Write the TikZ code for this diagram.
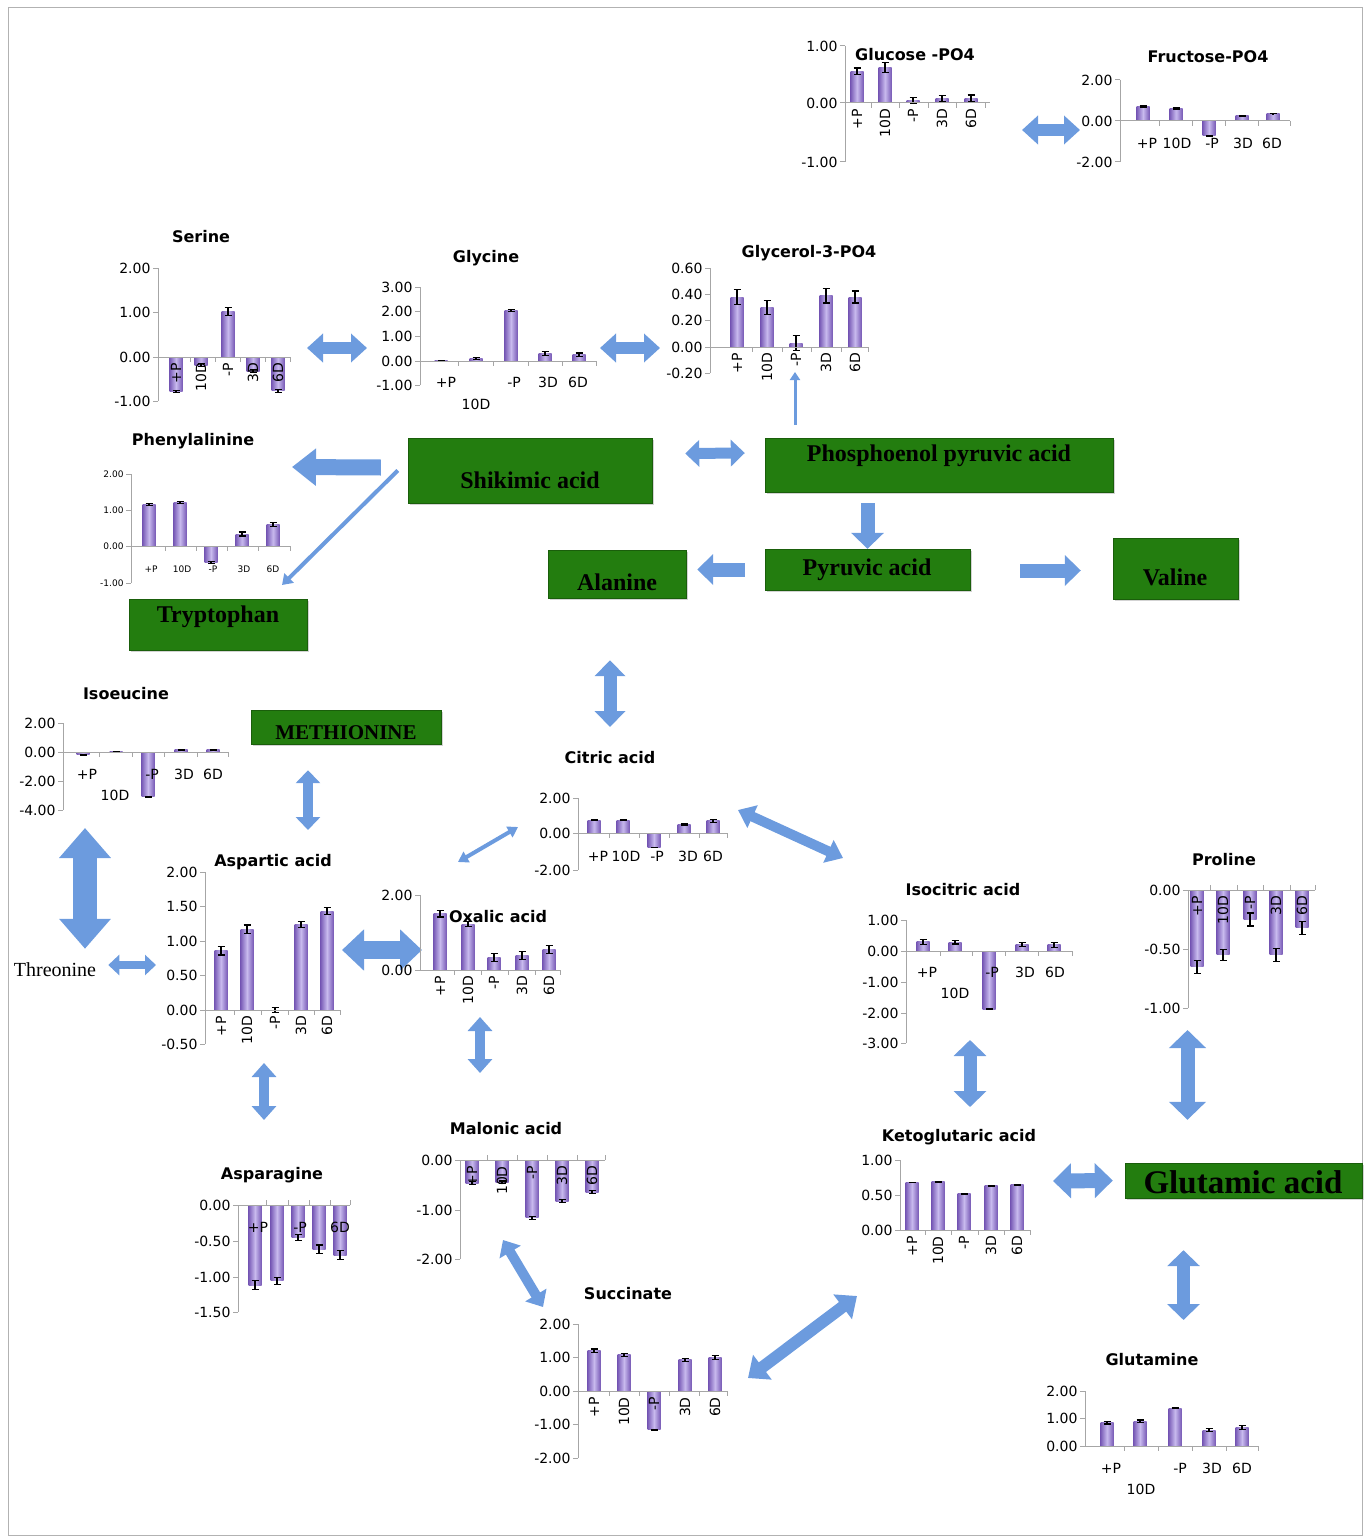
\documentclass[tikz,border=0pt]{standalone}
\usepackage{fontspec}
\setmainfont{Liberation Serif}
\setsansfont{DejaVu Sans}
\usetikzlibrary{arrows.meta, calc, shadows}
\definecolor{boxgreen}{RGB}{35,125,15}
\definecolor{arrowblue}{RGB}{108,155,222}
\definecolor{barpurple}{RGB}{120,90,182}
\definecolor{barlight}{RGB}{200,186,238}
\tikzset{axisline/.style={draw=gray!70, line width=1pt}}
\tikzset{ticklabel/.style={left, inner sep=2pt, font=\sffamily\fontsize{14}{16}\selectfont}}
\tikzset{smalltick/.style={ticklabel, font=\sffamily\fontsize{9}{11}\selectfont}}
\tikzset{catlabel/.style={inner sep=1pt, font=\sffamily\fontsize{14}{16}\selectfont}}
\tikzset{smallcat/.style={inner sep=1pt, font=\sffamily\fontsize{9}{11}\selectfont}}
\tikzset{catrot/.style={catlabel, rotate=90, anchor=east}}
\tikzset{charttitle/.style={font=\sffamily\bfseries\fontsize{16}{18}\selectfont}}
\tikzset{bar/.style={left color=barpurple, right color=barpurple, middle color=barlight}}
\tikzset{errbar/.style={line width=1.2pt, {Bar[width=7pt]}-{Bar[width=7pt]}}}
\tikzset{compound/.style={fill=boxgreen, draw=boxgreen!75!black, drop shadow={shadow xshift=2pt, shadow yshift=-2pt, opacity=0.35}, inner sep=0pt}}
\tikzset{boxtext/.style={inner sep=0pt, font=\bfseries\fontsize{24}{28}\selectfont}}
\tikzset{fatboth/.style n args={3}{line width=#1, draw=arrowblue, {Triangle[width=#2, length=#3]}-{Triangle[width=#2, length=#3]}}}
\tikzset{fatone/.style n args={3}{line width=#1, draw=arrowblue, -{Triangle[width=#2, length=#3]}}}
% chart helpers: y ticks, x ticks, bars with error bars
\newcommand{\yticks}[2]{\foreach \ty/\tl in {#2} \draw[axisline] (#1,\ty) -- ++(-5,0) node[ticklabel] {\tl};}
\newcommand{\xticks}[3]{\foreach \tx in {#2} \draw[axisline] (\tx,#1) -- ++(0,#3);}
\newcommand{\bars}[3]{\foreach \bx/\bv/\be in {#3} {
    \shade[bar] ({\bx-6.5},#1) rectangle ({\bx+6.5},{#1-(\bv)*#2});
    \draw[errbar] (\bx,{#1-(\bv-\be)*#2}) -- (\bx,{#1-(\bv+\be)*#2});}}

\begin{document}
\begin{tikzpicture}[x=1pt, y=-1pt]
\useasboundingbox (0,0) rectangle (1367,1538);
\draw[gray!60, line width=1pt] (8,8) rectangle (1362,1535);

% compounds without charts
\node[compound, minimum width=244, minimum height=65] (shik) at (530,470.5) {};
\node[compound, minimum width=348, minimum height=54] (pep) at (939,465) {};
\node[compound, minimum width=205, minimum height=41] (pyr) at (867.5,569.5) {};
\node[compound, minimum width=138, minimum height=48] (ala) at (617,574) {};
\node[compound, minimum width=125, minimum height=61] (val) at (1175.5,568.5) {};
\node[compound, minimum width=178, minimum height=51] (tryp) at (218,624.5) {};
\node[compound, minimum width=190, minimum height=34] (meth) at (346,727) {};
\node[compound, minimum width=237, minimum height=35] (glu) at (1243.5,1180.5) {};
\node[boxtext] (shik-t) at (530,480) {Shikimic acid};
\node[boxtext] (pep-t) at (939,456) {Phosphoenol pyruvic acid};
\node[boxtext] (pyr-t) at (867,570) {Pyruvic acid};
\node[boxtext] (ala-t) at (617,582) {Alanine};
\node[boxtext] (val-t) at (1175,577) {Valine};
\node[boxtext] (tryp-t) at (218,617) {Tryptophan};
\node[boxtext, font=\bfseries\fontsize{21}{24}\selectfont] (meth-t) at (346,733) {METHIONINE};
\node[boxtext, font=\bfseries\fontsize{33}{36}\selectfont] (glu-t) at (1243,1182) {Glutamic acid};
\node[inner sep=0pt, font=\fontsize{20}{22}\selectfont] (thr) at (55,970) {Threonine};

% arrow ends at the charts
\coordinate (glc-out) at (1022,130);
\coordinate (fru-in) at (1080,130);
\coordinate (ser-out) at (307,348);
\coordinate (gly-in) at (367,348);
\coordinate (gly-out) at (600,348);
\coordinate (g3p-in) at (660,348);
\coordinate (g3p-low) at (795,372);
\coordinate (phe-in) at (292,467);
\coordinate (tryp-in) at (282,585);
\coordinate (cit-top) at (610,727);
\coordinate (asp-top) at (308,830);
\coordinate (iso-low) at (85,828);
\coordinate (asp-left) at (156,965);
\coordinate (cit-left) at (518,827);
\coordinate (oxa-up) at (458,862);
\coordinate (cit-right) at (738,810);
\coordinate (icit-in) at (843,858);
\coordinate (asp-right) at (342,950);
\coordinate (oxa-left) at (422,950);
\coordinate (asp-low) at (264,1063);
\coordinate (asn-top) at (264,1120);
\coordinate (oxa-low) at (480,1017);
\coordinate (mal-top) at (480,1073);
\coordinate (icit-low) at (970,1040);
\coordinate (keto-top) at (970,1107);
\coordinate (pro-low) at (1187.5,1030);
\coordinate (keto-right) at (1053,1181);
\coordinate (gln-top) at (1183.5,1320);
\coordinate (mal-low) at (503,1240);
\coordinate (suc-top) at (543,1307);
\coordinate (suc-right) at (748,1378);
\coordinate (keto-low) at (857,1296);

\draw[fatboth={12pt}{28pt}{16pt}] (glc-out) -- (fru-in);
\draw[fatboth={12pt}{28pt}{16pt}] (ser-out) -- (gly-in);
\draw[fatboth={12pt}{28pt}{16pt}] (gly-out) -- (g3p-in);
\draw[fatone={3pt}{10pt}{8pt}] ($(pep.north -| g3p-low)+(0,-13)$) -- (g3p-low);
\draw[fatone={16pt}{36pt}{24pt}] ($(shik.west)+(-27,-3)$) -- (phe-in);
\draw[fatone={4pt}{13pt}{10pt}] ($(shik.west)+(-10,0)$) -- (tryp-in);
\draw[fatboth={11pt}{26pt}{14pt}] ($(shik.east)+(33,-17)$) -- ($(pep.west)+(-20,-12)$);
\draw[fatone={14pt}{32pt}{16pt}] ($(pep.south -| pyr.north)+(0,11)$) -- (pyr.north);
\draw[fatone={14pt}{30pt}{16pt}] ($(pyr.west)+(-20,0)$) -- ($(ala.east |- pyr.west)+(11,0)$);
\draw[fatone={14pt}{30pt}{16pt}] ($(pyr.east)+(50,1)$) -- ($(val.west)+(-32,2)$);
\draw[fatboth={13pt}{30pt}{16pt}] ($(ala.south)+(-7,62)$) -- (cit-top);
\draw[fatboth={10pt}{24pt}{13pt}] ($(meth.south)+(-38,26)$) -- (asp-top);
\draw[fatboth={24pt}{50pt}{30pt}] (iso-low) -- ($(thr.north)+(30,-14)$);
\draw[fatboth={8pt}{20pt}{11pt}] ($(thr.east)+(12,-5)$) -- (asp-left);
\draw[fatboth={4pt}{12pt}{10pt}] (cit-left) -- (oxa-up);
\draw[fatboth={10pt}{24pt}{16pt}] (cit-right) -- (icit-in);
\draw[fatboth={18pt}{40pt}{22pt}] (asp-right) -- (oxa-left);
\draw[fatboth={10pt}{24pt}{14pt}] (asp-low) -- (asn-top);
\draw[fatboth={10pt}{24pt}{14pt}] (oxa-low) -- (mal-top);
\draw[fatboth={13pt}{32pt}{16pt}] (icit-low) -- (keto-top);
\draw[fatboth={14pt}{36pt}{18pt}] (pro-low) -- ($(glu.north)+(-56,-43)$);
\draw[fatboth={15pt}{34pt}{18pt}] (keto-right) -- ($(glu.west)+(-12,0)$);
\draw[fatboth={13pt}{32pt}{16pt}] ($(glu.south)+(-60,52)$) -- (gln-top);
\draw[fatboth={10pt}{24pt}{14pt}] (mal-low) -- (suc-top);
\draw[fatboth={12pt}{30pt}{18pt}] (suc-right) -- (keto-low);

% Glucose-PO4
\bars{103}{57.5}{857/0.55/0.07, 885/0.62/0.1, 913/0.04/0.06, 942/0.08/0.06, 971/0.08/0.07}
\draw[axisline] (845,46) -- (845,162) (845,103) -- (990,103);
\yticks{845}{46/1.00, 103/0.00, 162/-1.00}
\xticks{103}{871, 899, 928, 956, 985}{5}
\foreach \lx/\lt in {857/+P, 885/10D, 913/-P, 942/3D, 971/6D} \node[catrot] at (\lx,108) {\lt};
\node[charttitle] (glc) at (915,55) {Glucose -PO4};

% Fructose-PO4
\bars{121}{20.5}{1143/0.7/0.06, 1176/0.62/0.06, 1209/-0.72/0.05, 1242/0.25/0.06, 1273/0.35/0.03}
\draw[axisline] (1120,80) -- (1120,162) (1120,121) -- (1290,121);
\yticks{1120}{80/2.00, 121/0.00, 162/-2.00}
\xticks{121}{1159, 1192, 1225, 1258, 1290}{5}
\foreach \lx/\lt in {1147/+P, 1177/10D, 1212/-P, 1243/3D, 1272/6D} \node[catlabel] at (\lx,143) {\lt};
\node[charttitle] (fru) at (1208,57) {Fructose-PO4};

% Serine
\bars{357}{44.5}{176/-0.78/0.04, 201/-0.18/0.05, 228/1.02/0.1, 253/-0.32/0.05, 278/-0.76/0.05}
\draw[axisline] (158,268) -- (158,401) (158,357) -- (290,357);
\yticks{158}{268/2.00, 312/1.00, 357/0.00, 401/-1.00}
\xticks{357}{190, 215, 240, 265, 290}{5}
\foreach \lx/\lt in {176/+P, 201/10D, 228/-P, 253/3D, 278/6D} \node[catrot] at (\lx,362) {\lt};
\node[charttitle] (ser) at (201,237) {Serine};

% Glycine
\bars{361}{24.5}{441/0.02/0.02, 476/0.1/0.07, 511/2.05/0.07, 545/0.3/0.1, 579/0.25/0.1}
\draw[axisline] (420,287) -- (420,385) (420,361) -- (596,361);
\yticks{420}{287/3.00, 311/2.00, 336/1.00, 361/0.00, 385/-1.00}
\xticks{361}{458, 493, 528, 562, 596}{5}
\foreach \lx/\ly/\lt in {446/382/+P, 476/404/10D, 514/382/-P, 548/382/3D, 578/382/6D} \node[catlabel] at (\lx,\ly) {\lt};
\node[charttitle] (gly) at (486,258) {Glycine};

% Glycerol-3-PO4
\bars{347}{131.5}{737/0.38/0.06, 767/0.3/0.06, 796/0.03/0.06, 826/0.39/0.06, 855/0.38/0.05}
\draw[axisline] (710,268) -- (710,373) (710,347) -- (868,347);
\yticks{710}{268/0.60, 294/0.40, 320/0.20, 347/0.00, 373/-0.20}
\xticks{347}{752, 782, 811, 841, 868}{5}
\foreach \lx/\lt in {737/+P, 767/10D, 796/-P, 826/3D, 855/6D} \node[catrot] at (\lx,352) {\lt};
\node[charttitle] (g3p) at (809,253) {Glycerol-3-PO4};

% Phenylalinine
\bars{546}{36.3}{149/1.15/0.04, 180/1.2/0.04, 211/-0.45/0.04, 242/0.33/0.07, 273/0.6/0.07}
\draw[axisline] (131,474) -- (131,583) (131,546) -- (290,546);
\foreach \ty/\tl in {474/2.00, 510/1.00, 546/0.00, 583/-1.00} \draw[axisline] (131,\ty) -- ++(-5,0) node[smalltick] {\tl};
\xticks{546}{165, 196, 227, 258, 290}{5}
\foreach \lx/\lt in {151/+P, 182/10D, 213/-P, 244/3D, 273/6D} \node[smallcat] at (\lx,569) {\lt};
\node[charttitle] (phe) at (193,441) {Phenylalinine};

% Isoeucine
\bars{752}{14.5}{83/-0.2/0.05, 116/0.05/0.05, 148/-3.1/0.05, 181/0.15/0.08, 213/0.15/0.08}
\draw[axisline] (63,723) -- (63,810) (63,752) -- (228,752);
\yticks{63}{723/2.00, 752/0.00, 781/-2.00, 810/-4.00}
\xticks{752}{99, 132, 164, 197, 228}{5}
\foreach \lx/\ly/\lt in {87/774/+P, 115/795/10D, 152/774/-P, 184/774/3D, 213/774/6D} \node[catlabel] at (\lx,\ly) {\lt};
\node[charttitle] (iso) at (126,694) {Isoeucine};

% Citric acid
\bars{833}{18}{594/0.72/0.08, 623/0.72/0.08, 654/-0.8/0.05, 684/0.45/0.08, 713/0.68/0.12}
\draw[axisline] (578,798) -- (578,870) (578,833) -- (727,833);
\yticks{578}{798/2.00, 833/0.00, 870/-2.00}
\xticks{833}{609, 639, 669, 699, 727}{5}
\foreach \lx/\lt in {598/+P, 626/10D, 657/-P, 688/3D, 713/6D} \node[catlabel] at (\lx,856) {\lt};
\node[charttitle] (cit) at (610,758) {Citric acid};

% Aspartic acid
\bars{1010}{69}{221/0.86/0.07, 247/1.17/0.07, 275/0.0/0.05, 301/1.24/0.05, 327/1.43/0.06}
\draw[axisline] (205,872) -- (205,1044) (205,1010) -- (340,1010);
\yticks{205}{872/2.00, 906/1.50, 941/1.00, 975/0.50, 1010/0.00, 1044/-0.50}
\xticks{1010}{234, 261, 288, 314, 340}{5}
\foreach \lx/\lt in {221/+P, 247/10D, 275/-P, 301/3D, 327/6D} \node[catrot] at (\lx,1015) {\lt};
\node[charttitle] (asp) at (273,862) {Aspartic acid};

% Oxalic acid
\bars{970}{37.5}{440/1.5/0.1, 468/1.22/0.08, 494/0.33/0.12, 522/0.38/0.12, 549/0.55/0.12}
\draw[axisline] (420,895) -- (420,970) -- (560,970);
\yticks{420}{895/2.00, 970/0.00}
\xticks{970}{454, 481, 508, 535, 560}{5}
\foreach \lx/\lt in {440/+P, 468/10D, 494/-P, 522/3D, 549/6D} \node[catrot] at (\lx,975) {\lt};
\node[charttitle] (oxa) at (498,917) {Oxalic acid};

% Isocitric acid
\bars{951}{30.7}{923/0.3/0.1, 955/0.28/0.07, 989/-1.9/0.03, 1022/0.22/0.08, 1054/0.2/0.1}
\draw[axisline] (906,920) -- (906,1043) (906,951) -- (1072,951);
\yticks{906}{920/1.00, 951/0.00, 982/-1.00, 1013/-2.00, 1043/-3.00}
\xticks{951}{940, 972, 1005, 1038, 1072}{5}
\foreach \lx/\ly/\lt in {927/972/+P, 955/993/10D, 992/972/-P, 1025/972/3D, 1055/972/6D} \node[catlabel] at (\lx,\ly) {\lt};
\node[charttitle] (icit) at (963,890) {Isocitric acid};

% Proline
\bars{890}{118}{1197/-0.65/0.06, 1223/-0.55/0.05, 1250/-0.25/0.06, 1276/-0.55/0.06, 1302/-0.32/0.06}
\draw[axisline] (1188,890) -- (1188,1008) (1188,890) -- (1315,890);
\yticks{1188}{890/0.00, 949/-0.50, 1008/-1.00}
\xticks{890}{1210, 1237, 1263, 1290, 1315}{-5}
\foreach \lx/\lt in {1197/+P, 1223/10D, 1250/-P, 1276/3D, 1302/6D} \node[catrot] at (\lx,895) {\lt};
\node[charttitle] (pro) at (1224,860) {Proline};

% Malonic acid
\bars{1160}{49.5}{472/-0.47/0.04, 502/-0.45/0.04, 532/-1.17/0.04, 562/-0.83/0.04, 592/-0.65/0.04}
\draw[axisline] (460,1160) -- (460,1259) (460,1160) -- (605,1160);
\yticks{460}{1160/0.00, 1210/-1.00, 1259/-2.00}
\xticks{1160}{487, 517, 547, 577, 605}{-5}
\foreach \lx/\lt in {472/+P, 502/10D, 532/-P, 562/3D, 592/6D} \node[catrot] at (\lx,1165) {\lt};
\node[charttitle] (mal) at (506,1129) {Malonic acid};

% Asparagine
\bars{1205}{71.5}{255/-1.12/0.07, 277/-1.06/0.06, 298/-0.45/0.05, 319/-0.62/0.07, 340/-0.7/0.07}
\draw[axisline] (238,1205) -- (238,1312) (238,1205) -- (350,1205);
\yticks{238}{1205/0.00, 1241/-0.50, 1277/-1.00, 1312/-1.50}
\xticks{1205}{266, 288, 309, 330, 350}{-5}
\foreach \lx/\lt in {258/+P, 300/-P, 340/6D} \node[catlabel] at (\lx,1227) {\lt};
\node[charttitle] (asn) at (272,1175) {Asparagine};

% Ketoglutaric acid
\bars{1230}{70}{912/0.68/0.01, 938/0.69/0.005, 964/0.52/0.005, 991/0.63/0.01, 1017/0.65/0.005}
\draw[axisline] (900,1160) -- (900,1230) -- (1030,1230);
\yticks{900}{1160/1.00, 1195/0.50, 1230/0.00}
\xticks{1230}{925, 951, 978, 1004, 1030}{5}
\foreach \lx/\lt in {912/+P, 938/10D, 964/-P, 991/3D, 1017/6D} \node[catrot] at (\lx,1235) {\lt};
\node[charttitle] (keto) at (959,1137) {Ketoglutaric acid};

% Succinate
\bars{1391}{33.5}{594/1.2/0.07, 624/1.08/0.06, 654/-1.15/0.03, 685/0.93/0.07, 715/1.0/0.07}
\draw[axisline] (578,1324) -- (578,1458) (578,1391) -- (727,1391);
\yticks{578}{1324/2.00, 1357/1.00, 1391/0.00, 1424/-1.00, 1458/-2.00}
\xticks{1391}{609, 639, 669, 699, 727}{5}
\foreach \lx/\lt in {594/+P, 624/10D, 654/-P, 685/3D, 715/6D} \node[catrot] at (\lx,1396) {\lt};
\node[charttitle] (suc) at (628,1294) {Succinate};

% Glutamine
\bars{1446}{27.5}{1107/0.85/0.07, 1140/0.9/0.07, 1175/1.38/0.05, 1209/0.58/0.07, 1242/0.68/0.1}
\draw[axisline] (1085,1391) -- (1085,1446) -- (1258,1446);
\yticks{1085}{1391/2.00, 1418/1.00, 1446/0.00}
\xticks{1446}{1124, 1158, 1192, 1226, 1258}{5}
\foreach \lx/\ly/\lt in {1111/1468/+P, 1141/1489/10D, 1180/1468/-P, 1212/1468/3D, 1242/1468/6D} \node[catlabel] at (\lx,\ly) {\lt};
\node[charttitle] (gln) at (1152,1360) {Glutamine};
\end{tikzpicture}
\end{document}
